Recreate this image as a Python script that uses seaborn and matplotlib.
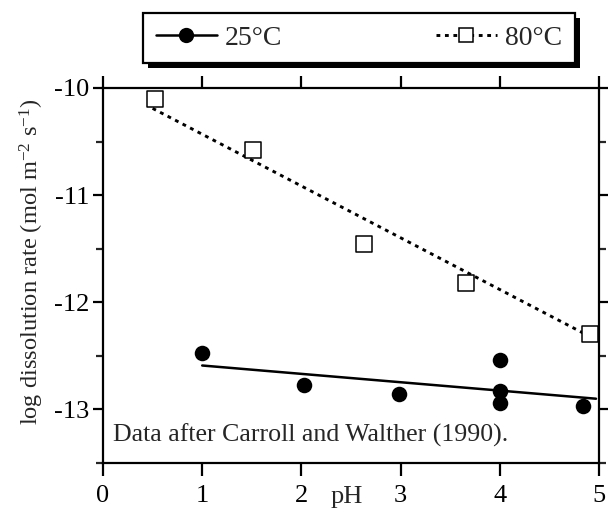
import matplotlib
matplotlib.use("Agg")
import matplotlib.pyplot as plt
import seaborn as sns
import pandas as pd
import numpy as np
from matplotlib.ticker import MultipleLocator, FixedLocator
from matplotlib.patches import Rectangle
from matplotlib.lines import Line2D

# ---- data ----
ph_25 = [1.00, 2.03, 2.98, 4.00, 4.00, 4.00, 4.84]
rate_25 = [-12.47, -12.77, -12.86, -12.54, -12.83, -12.94, -12.97]
ph_80 = [0.52, 1.51, 2.63, 3.66, 4.91]
rate_80 = [-10.10, -10.58, -11.46, -11.82, -12.30]
fit_25_x = [1.00, 4.97]
fit_25_y = [-12.59, -12.90]
fit_80_x = [0.50, 4.95]
fit_80_y = [-10.19, -12.34]
x_ticks = [0, 1, 2, 3, 4, 5]
y_ticks = [-13, -12, -11, -10]
labels = ["25°C", "80°C"]

sns.set_theme(style="ticks")
plt.rcParams["font.family"] = ["Liberation Serif", "DejaVu Serif"]
plt.rcParams["mathtext.fontset"] = "custom"
plt.rcParams["mathtext.rm"] = "Liberation Serif"
plt.rcParams["mathtext.it"] = "Liberation Serif:italic"
plt.rcParams["axes.unicode_minus"] = False

FS = 19
DOTS = (0, (1.3, 1.6))
fig = plt.figure(figsize=(6.08, 5.08), dpi=100)
ax = fig.add_axes([103 / 608, 1 - 463 / 508, 496 / 608, 375 / 508])

df25 = pd.DataFrame({"pH": ph_25, "rate": rate_25})
df80 = pd.DataFrame({"pH": ph_80, "rate": rate_80})
f25 = pd.DataFrame({"pH": fit_25_x, "rate": fit_25_y})
f80 = pd.DataFrame({"pH": fit_80_x, "rate": fit_80_y})

sns.lineplot(data=f25, x="pH", y="rate", ax=ax, color="black", lw=1.8,
             sort=False, estimator=None)
sns.lineplot(data=f80, x="pH", y="rate", ax=ax, color="black", lw=2.1,
             sort=False, estimator=None, dashes=False)
ax.lines[-1].set_linestyle(DOTS)
sns.scatterplot(data=df25, x="pH", y="rate", ax=ax, color="black",
                marker="o", s=125, edgecolor="black", linewidth=0, zorder=3)
sns.scatterplot(data=df80, x="pH", y="rate", ax=ax, facecolor="white",
                marker="s", s=118, edgecolor="black", linewidth=1.1, zorder=3)

ax.set_xlim(0, 5)
ax.set_ylim(-13.5, -10)
ax.xaxis.set_major_locator(FixedLocator(x_ticks))
ax.yaxis.set_major_locator(FixedLocator(y_ticks))
ax.yaxis.set_minor_locator(MultipleLocator(0.5))
ax.set_xticklabels([str(t) for t in x_ticks])
ax.set_yticklabels([str(t) for t in y_ticks])
ax.tick_params(axis="x", which="major", direction="out", length=9, width=1.6,
               top=True, labeltop=False, labelsize=FS, pad=7, colors="black")
ax.tick_params(axis="y", which="major", direction="out", length=7, width=1.6,
               right=True, labelright=False, labelsize=FS, pad=3, colors="black")
ax.tick_params(axis="y", which="minor", direction="out", length=5, width=1.6,
               right=True)
for s in ax.spines.values():
    s.set_linewidth(1.6)
    s.set_color("black")
ax.set_xlabel("")
ax.set_ylabel("")

ax.text(0.492, -0.09, "pH", transform=ax.transAxes, ha="center", va="center",
        fontsize=FS)
ax.text(0.02, 0.075, "Data after Carroll and Walther (1990).",
        transform=ax.transAxes, ha="left", va="center", fontsize=18.6)
fig.text(32 / 608, 1 - 262 / 508,
         r"log dissolution rate (mol m$^{-2}$ s$^{-1}$)",
         rotation=90, ha="center", va="center", fontsize=17.6)

# legend
h1 = Line2D([], [], color="black", lw=1.8, marker="o", markersize=11,
            markerfacecolor="black", markeredgewidth=0)
h2 = Line2D([], [], color="black", lw=2.1, linestyle=DOTS,
            marker="s", markersize=10, markerfacecolor="white",
            markeredgecolor="black", markeredgewidth=1.1)
leg = fig.legend([h1, h2], labels, ncol=2, mode="expand", loc="center",
                 bbox_to_anchor=(143 / 608, 1 - 63 / 508, 432 / 608, 50 / 508),
                 bbox_transform=fig.transFigure, fontsize=20, frameon=True,
                 fancybox=False, shadow=False, framealpha=1, handlelength=2.2,
                 handletextpad=0.3, borderpad=0.45, borderaxespad=0)
leg.get_frame().set_edgecolor("black")
leg.get_frame().set_linewidth(1.6)
leg.get_frame().set_facecolor("white")
leg.set_zorder(5)

fig.canvas.draw()
bb = leg.get_frame().get_window_extent()
fig.patches.append(Rectangle((bb.x0 + 5, bb.y0 - 5), bb.width, bb.height,
                             transform=None, facecolor="black",
                             edgecolor="none", zorder=4, figure=fig))

fig.savefig("out.png", dpi=100)
